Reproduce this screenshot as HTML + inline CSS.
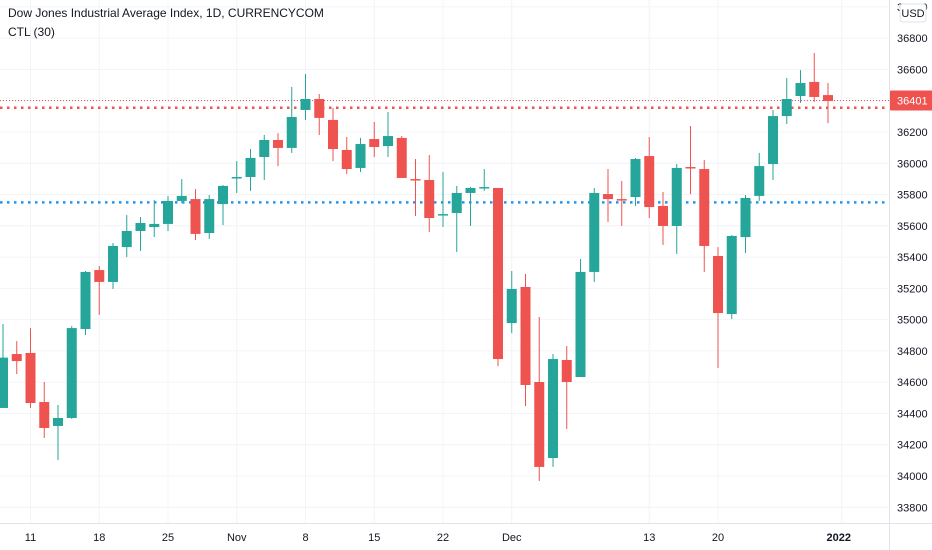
<!DOCTYPE html>
<html><head><meta charset="utf-8"><style>
html,body{margin:0;padding:0;background:#fff;width:932px;height:550px;overflow:hidden;font-family:"Liberation Sans",sans-serif}
#hdr{position:absolute;left:8px;top:6px;font-size:12px;color:#131722}
#ctl{position:absolute;left:8px;top:25px;font-size:12px;color:#131722}
</style></head><body>
<svg id="chart" width="932" height="550" style="position:absolute;left:0;top:0"></svg>
<div id="hdr">Dow Jones Industrial Average Index, 1D, CURRENCYCOM</div>
<div id="ctl">CTL (30)</div>
<script>
const opens=[34435,34780,34787,34473,34320,34371,34940,35317,35241,35464,35567,35592,35612,35759,35771,35554,35739,35906,35912,36040,36149,36098,36341,36411,36277,36085,35970,36155,36110,36162,35899,35893,35669,35682,35810,35842,35842,34978,35209,34601,34115,34742,34633,35305,35803,35771,35784,36046,35727,35599,35976,35963,35407,35036,35528,35791,35995,36302,36430,36520,36436];
const highs=[34972,34863,34946,34601,34454,34959,35311,35343,35490,35669,35656,35765,35791,35899,35835,35797,35861,36014,36091,36181,36193,36488,36571,36443,36353,36168,36162,36264,36328,36174,36027,36053,35944,35855,35848,35963,35842,35311,35292,35017,34780,34831,35388,35842,35963,35887,36034,36168,35816,35995,36238,36021,35464,35541,35797,36066,36341,36545,36596,36705,36513];
const lows=[34435,34652,34435,34243,34102,34365,34902,35030,35196,35400,35439,35528,35567,35746,35509,35516,35605,35810,35823,35893,35982,36066,36277,36181,36014,35931,35944,36040,36040,35906,35663,35560,35592,35432,35599,35823,34703,34914,34448,33968,34058,34301,34633,35241,35624,35599,35727,35650,35477,35420,35803,35305,34691,35004,35426,35759,35893,36251,36385,36392,36257];
const closes=[34757,34735,34467,34307,34371,34946,35305,35241,35471,35567,35618,35612,35759,35791,35548,35771,35855,35912,36034,36149,36098,36296,36411,36290,36091,35963,36123,36104,36174,35906,35893,35650,35675,35810,35842,35848,34748,35196,34582,34058,34748,34601,35305,35810,35771,35765,36027,35720,35599,35970,35970,35471,35042,35535,35778,35982,36302,36411,36513,36424,36398];
const yTicks=[33800,34000,34200,34400,34600,34800,35000,35200,35400,35600,35800,36000,36200,36600,36800,37000];
const xLabels=["11","18","25","Nov","8","15","22","Dec","13","20","2022"];
const xLabelIdx=[2,7,12,17,22,27,32,37,47,52,61];
const lastPrice=36401, redLevel=36355, blueLevel=35750;

const NS="http://www.w3.org/2000/svg", svg=document.getElementById('chart');
const plotR=889, axisY=523;
const y=v=>476-(v-34000)*0.15637;
const x=i=>3+i*13.75;
function mk(t,a,p){const e=document.createElementNS(NS,t);for(const k in a)e.setAttribute(k,a[k]);(p||svg).appendChild(e);return e;}
yTicks.forEach(v=>{const l=mk('line',{x1:0,x2:plotR,y1:y(v),y2:y(v),stroke:'#f2f4f8'});

});
mk('line',{x1:0,x2:plotR,y1:y(36400),y2:y(36400),stroke:'#f2f4f8'});
xLabelIdx.forEach(i=>{const l=mk('line',{x1:x(i),x2:x(i),y1:0,y2:axisY,stroke:'#f2f4f8'});

});
let pl=mk('line',{x1:0,x2:plotR,y1:y(lastPrice),y2:y(lastPrice),stroke:'#ef5350','stroke-width':1,'stroke-dasharray':'1 2'});


let rl=mk('line',{x1:0,x2:plotR,y1:y(redLevel),y2:y(redLevel),stroke:'#ef5350','stroke-width':2.5,'stroke-dasharray':'2.5 4.5'});


let bl=mk('line',{x1:0,x2:plotR,y1:y(blueLevel),y2:y(blueLevel),stroke:'#2196f3','stroke-width':2.5,'stroke-dasharray':'2.5 4.5'});


opens.forEach((o,i)=>{const c=closes[i],up=c>=o,col=up?'#26a69a':'#ef5350';
const g=mk('g',{});


mk('line',{x1:x(i),x2:x(i),y1:y(highs[i]),y2:y(lows[i]),stroke:col,'stroke-width':1},g);
const t=y(Math.max(o,c)),b=y(Math.min(o,c));
mk('rect',{x:x(i)-5,y:t,width:10,height:Math.max(1.5,b-t),fill:col},g);});
mk('rect',{x:plotR,y:0,width:932-plotR,height:550,fill:'#fff'});
mk('rect',{x:0,y:axisY,width:932,height:27,fill:'#fff'});
mk('line',{x1:plotR+0.5,x2:plotR+0.5,y1:0,y2:550,stroke:'#e0e3eb'});
mk('line',{x1:0,x2:932,y1:axisY+0.5,y2:axisY+0.5,stroke:'#e0e3eb'});
yTicks.forEach(v=>{const t=mk('text',{x:897,y:y(v)+4,'font-size':11,fill:'#131722'});t.textContent=v;

});
xLabels.forEach((s,k)=>{const t=mk('text',{x:x(xLabelIdx[k])-(k==10?3:0),y:541,'font-size':11,fill:'#131722','text-anchor':'middle','font-weight':k==10?'bold':'normal'});t.textContent=s;

});
const pr=mk('rect',{x:plotR+1,y:y(lastPrice)-10,width:43,height:20,fill:'#ef5350',rx:1});


const pt=mk('text',{x:897,y:y(lastPrice)+4,'font-size':11,fill:'#fff'});pt.textContent=lastPrice;
const ub=mk('rect',{x:900,y:4,width:26,height:18,fill:'#fff',stroke:'#e0e3eb',rx:3});


const ut=mk('text',{x:913,y:17,'font-size':11,fill:'#131722','text-anchor':'middle'});ut.textContent='USD';
</script>
</body></html>
